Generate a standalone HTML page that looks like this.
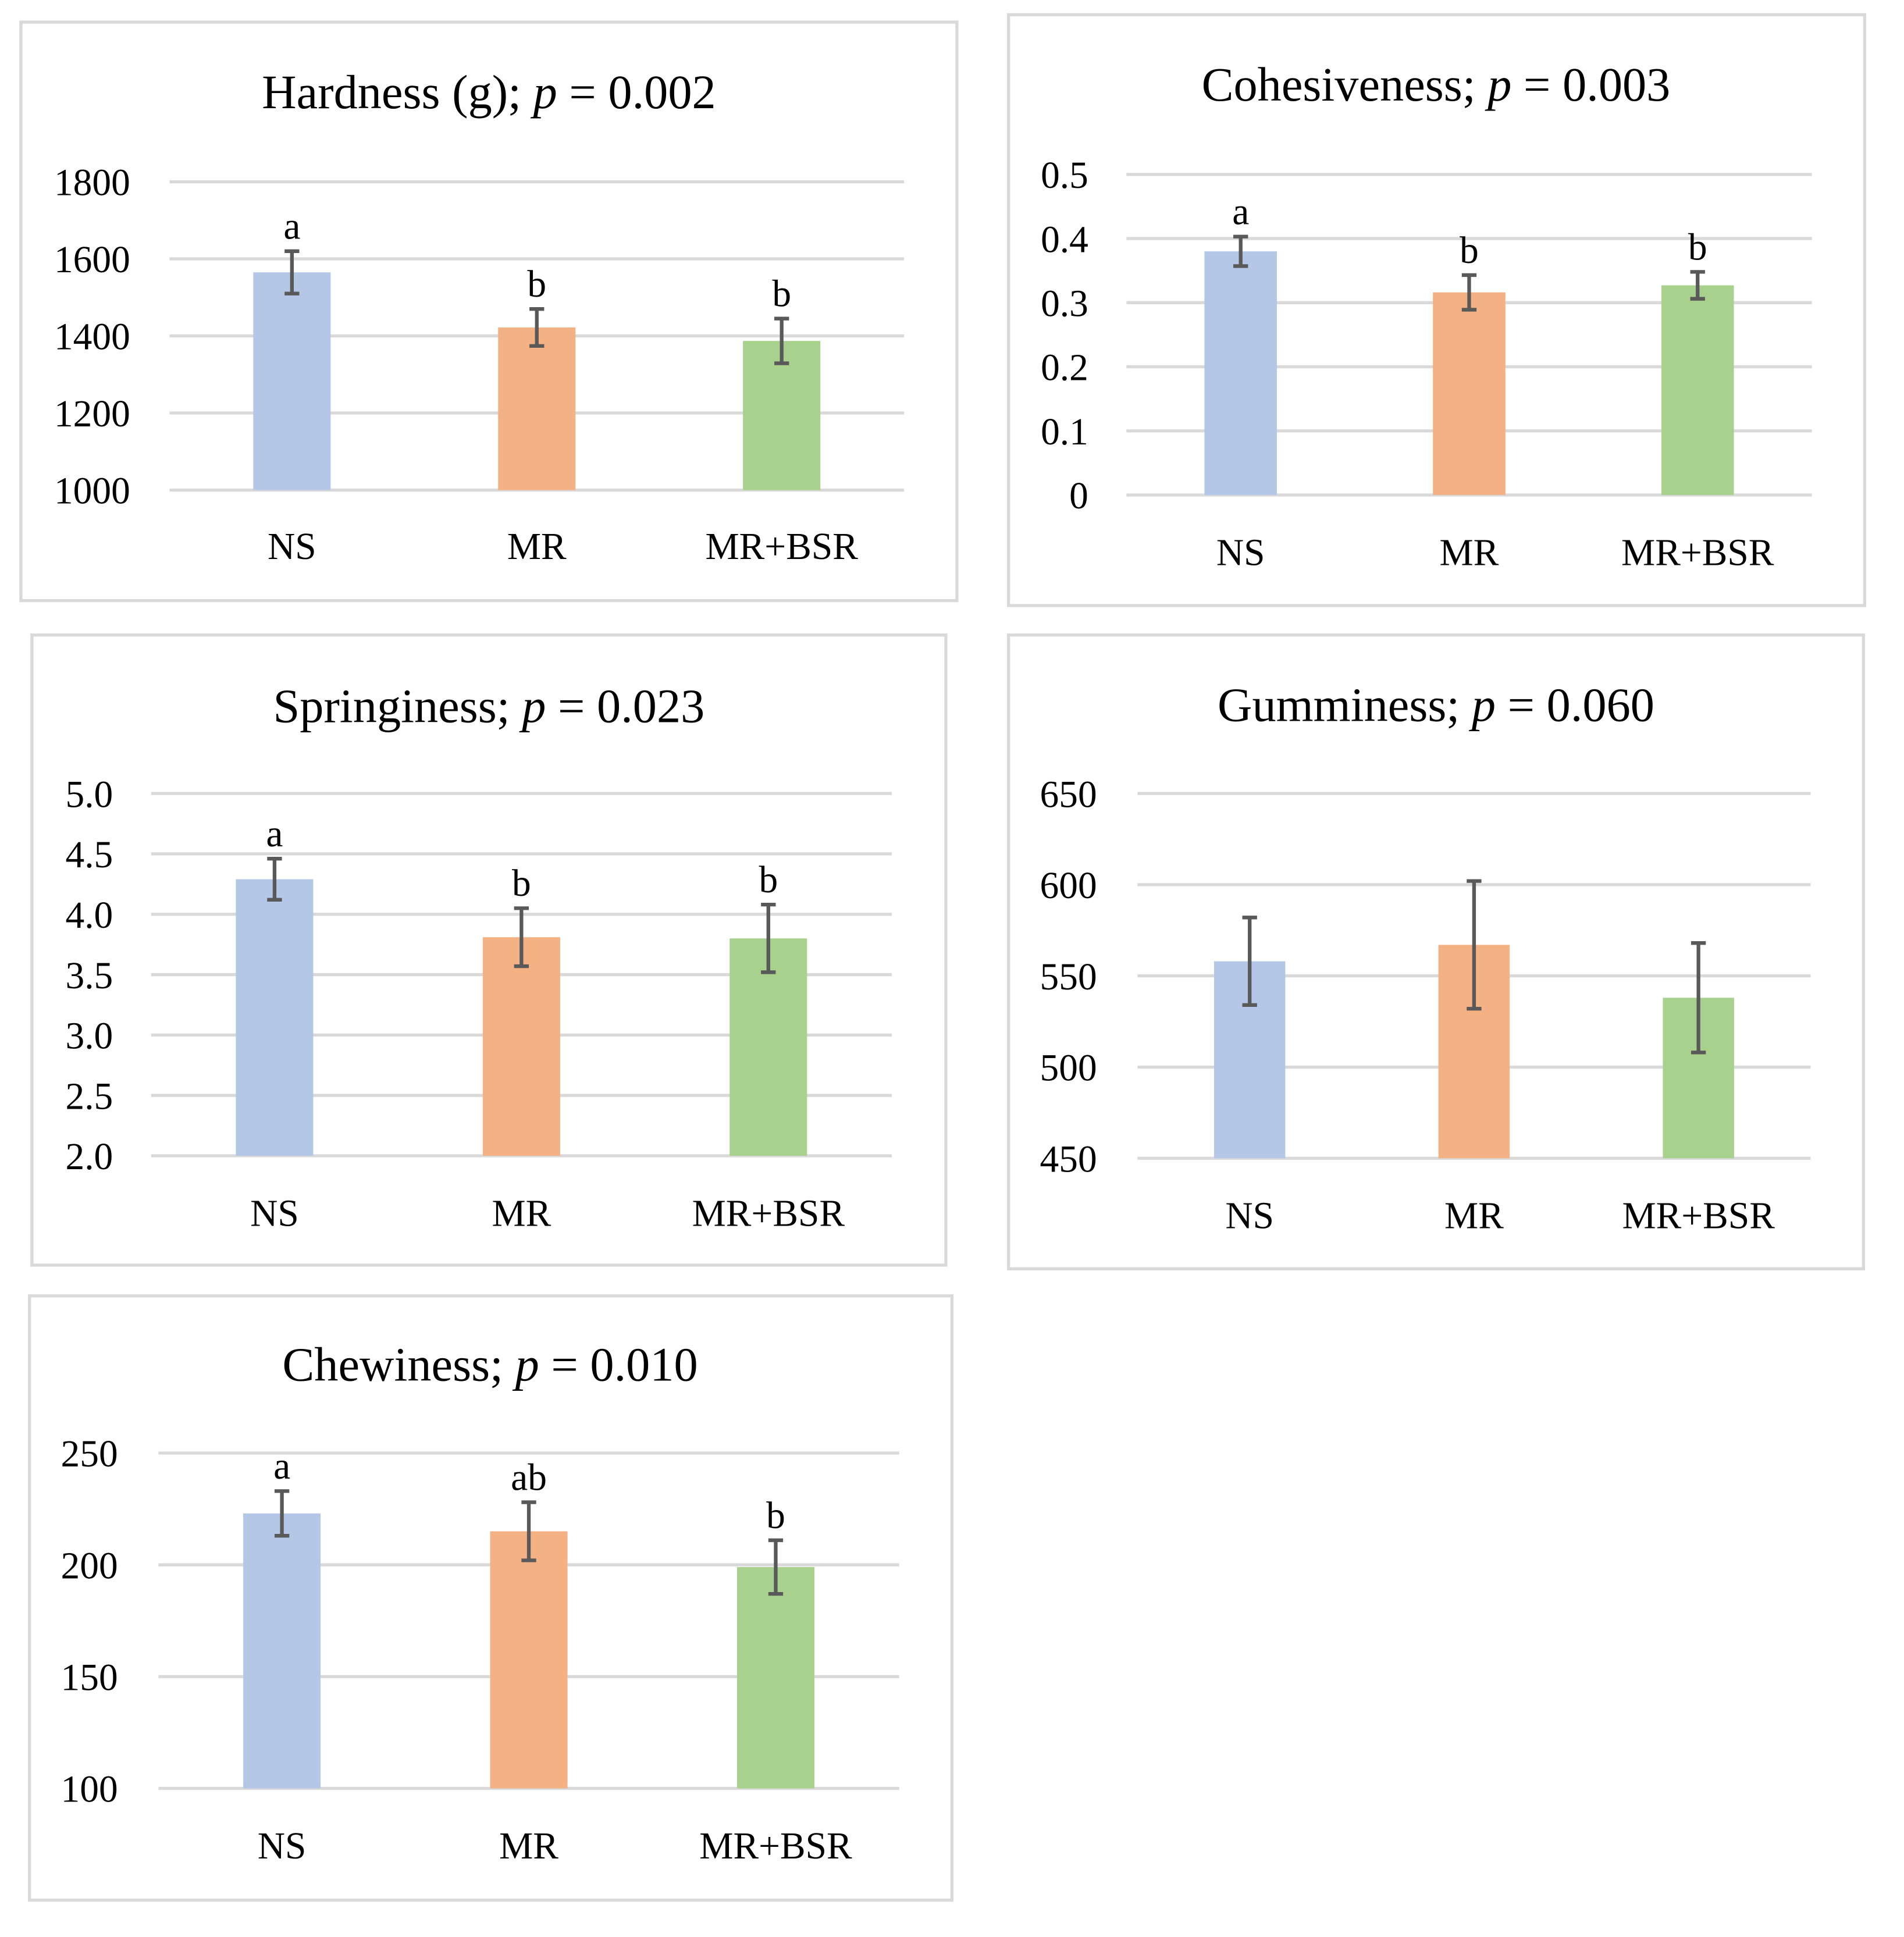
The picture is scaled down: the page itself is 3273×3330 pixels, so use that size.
<!DOCTYPE html>
<html><head><meta charset="utf-8"><style>
html,body{margin:0;padding:0;background:#fff}
svg{display:block}
text{font-family:"Liberation Serif",serif;fill:#000}
</style></head><body>
<svg id="fig" width="3273" height="3330" viewBox="0 0 1550 1577" preserveAspectRatio="none" xmlns="http://www.w3.org/2000/svg"></svg>
<script>
const categories = ["NS","MR","MR+BSR"];
const colors = ["#b4c7e7","#f4b183","#a9d18e"];
const hardnessValues = [1565,1422,1387];
const hardnessErr = [55,48,58];
const hardnessLetters = ["a","b","b"];
const hardnessTicks = [1000,1200,1400,1600,1800];
const cohesValues = [0.38,0.316,0.327];
const cohesErr = [0.023,0.027,0.021];
const cohesLetters = ["a","b","b"];
const cohesTicks = [0,0.1,0.2,0.3,0.4,0.5];
const springValues = [4.29,3.81,3.80];
const springErr = [0.17,0.24,0.28];
const springLetters = ["a","b","b"];
const springTicks = ["2.0","2.5","3.0","3.5","4.0","4.5","5.0"];
const gumValues = [558,567,538];
const gumErr = [24,35,30];
const gumLetters = ["","",""];
const gumTicks = [450,500,550,600,650];
const chewValues = [223,215,199];
const chewErr = [10,13,12];
const chewLetters = ["a","ab","b"];
const chewTicks = [100,150,200,250];

const NS="http://www.w3.org/2000/svg";
const svg=document.getElementById('fig');
function mk(tag,attrs,parent){const e=document.createElementNS(NS,tag);for(const k in attrs)e.setAttribute(k,attrs[k]);parent.appendChild(e);return e;}

function chart(cfg){
  const g=mk('g',{},svg);
  
  
  const box=mk('rect',{x:cfg.box[0],y:cfg.box[1],width:cfg.box[2]-cfg.box[0],height:cfg.box[3]-cfg.box[1],fill:'#fff',stroke:'#d9d9d9','stroke-width':2.5},g);
  
  
  const t=mk('text',{x:cfg.titleX,y:cfg.titleY,'text-anchor':'middle','font-size':39},g);
  
  
  t.appendChild(document.createTextNode(cfg.title+'; '));
  const ts=mk('tspan',{'font-style':'italic'},t);ts.textContent='p';
  t.appendChild(document.createTextNode(' = '+cfg.p));
  const ticks=cfg.ticks.map(Number);
  const lo=Math.min(...ticks),hi=Math.max(...ticks);
  const y=v=>cfg.yBot-(v-lo)/(hi-lo)*(cfg.yBot-cfg.yTop);
  cfg.ticks.forEach(tk=>{
    const yy=y(Number(tk));
    const l=mk('line',{x1:cfg.gx[0],x2:cfg.gx[1],y1:yy,y2:yy,stroke:'#d9d9d9','stroke-width':2.5},g);
    
    
    const tl=mk('text',{x:cfg.labelX,y:yy+11,'text-anchor':'end','font-size':31},g);
    
    
    tl.textContent=tk;
  });
  const step=(cfg.gx[1]-cfg.gx[0])/categories.length;
  const x=i=>cfg.gx[0]+step*(i+0.5);
  categories.forEach((c,i)=>{
    const v=cfg.values[i],e=cfg.err[i],cx=x(i);
    const b=mk('rect',{x:cx-cfg.bw/2,y:y(v),width:cfg.bw,height:y(lo)-y(v),fill:colors[i]},g);
    
    
    const yt=y(v+e),yb=y(v-e);
    const eb=mk('path',{d:`M${cx},${yt}V${yb}M${cx-6},${yt}H${cx+6}M${cx-6},${yb}H${cx+6}`,stroke:'#595959','stroke-width':3,fill:'none'},g);
    
    
    if(cfg.letters[i]){
      const lt=mk('text',{x:cx,y:yt-10,'text-anchor':'middle','font-size':31},g);
      
      
      lt.textContent=cfg.letters[i];
    }
    const xl=mk('text',{x:cx,y:cfg.xLabelY,'text-anchor':'middle','font-size':31},g);
    
    
    xl.textContent=c;
  });
}
chart({name:'hardness',box:[17,18,779,489],title:'Hardness (g)',p:'0.002',titleX:398,titleY:88,ticks:hardnessTicks,yTop:148,yBot:399,gx:[138,736],labelX:106,bw:63,values:hardnessValues,err:hardnessErr,letters:hardnessLetters,xLabelY:455});
chart({name:'cohesiveness',box:[821,12,1518,493],title:'Cohesiveness',p:'0.003',titleX:1169,titleY:82,ticks:cohesTicks,yTop:142,yBot:403,gx:[917,1475],labelX:886,bw:59,values:cohesValues,err:cohesErr,letters:cohesLetters,xLabelY:460});
chart({name:'springiness',box:[26,517,770,1030],title:'Springiness',p:'0.023',titleX:398,titleY:588,ticks:springTicks,yTop:646,yBot:941,gx:[123,726],labelX:92,bw:63,values:springValues,err:springErr,letters:springLetters,xLabelY:998});
chart({name:'gumminess',box:[821,517,1517,1033],title:'Gumminess',p:'0.060',titleX:1169,titleY:587,ticks:gumTicks,yTop:646,yBot:943,gx:[926,1474],labelX:893,bw:58,values:gumValues,err:gumErr,letters:gumLetters,xLabelY:1000});
chart({name:'chewiness',box:[24,1055,775,1547],title:'Chewiness',p:'0.010',titleX:399,titleY:1124,ticks:chewTicks,yTop:1183,yBot:1456,gx:[129,732],labelX:96,bw:63,values:chewValues,err:chewErr,letters:chewLetters,xLabelY:1513});
</script>
</body></html>
